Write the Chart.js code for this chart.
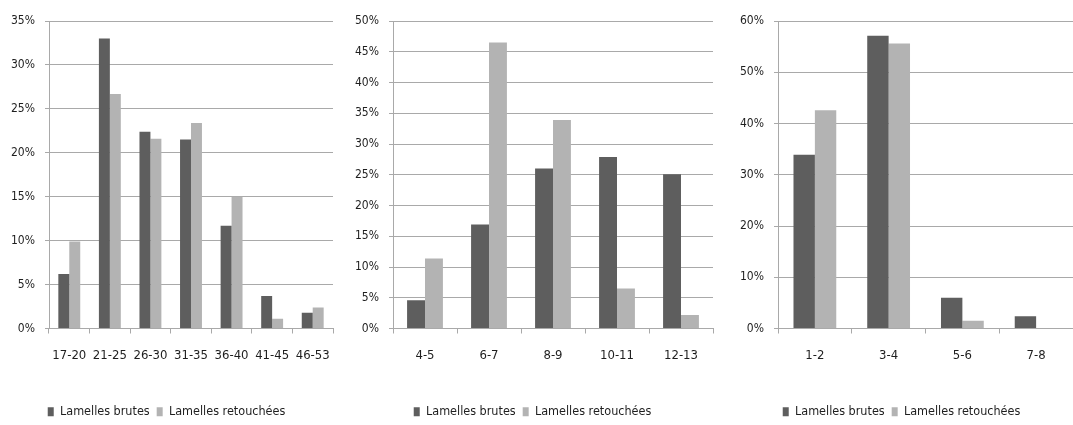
<!DOCTYPE html>
<html>
<head>
<meta charset="utf-8">
<script src="https://cdn.jsdelivr.net/npm/chart.js@4/dist/chart.umd.min.js"></script>
<style>
  html, body { margin: 0; padding: 0; background: #fff; width: 1073px; height: 425px; overflow: hidden; position: relative; }
  .box { position: absolute; top: 0; height: 425px; }
</style>
</head>
<body>
<div class="box" id="b1" style="left:0px;width:345px"><canvas id="c1"></canvas></div>
<div class="box" id="b2" style="left:352px;width:368px"><canvas id="c2"></canvas></div>
<div class="box" id="b3" style="left:730px;width:370px"><canvas id="c3"></canvas></div>
<script>
// Series names
const seriesNames = ['Lamelles brutes', 'Lamelles retouchées'];

// Panel 1 : length classes
const categories1 = ['17-20', '21-25', '26-30', '31-35', '36-40', '41-45', '46-53'];
const brutes1     = [6.2, 33.0, 22.4, 21.5, 11.7, 3.7, 1.8];
const retouchees1 = [9.9, 26.7, 21.6, 23.4, 15.0, 1.1, 2.4];
const yTicks1 = { max: 35, step: 5 };

// Panel 2 : width classes
const categories2 = ['4-5', '6-7', '8-9', '10-11', '12-13'];
const brutes2     = [4.6, 16.9, 26.0, 27.9, 25.1];
const retouchees2 = [11.4, 46.5, 33.9, 6.5, 2.2];
const yTicks2 = { max: 50, step: 5 };

// Panel 3 : thickness classes
const categories3 = ['1-2', '3-4', '5-6', '7-8'];
const brutes3     = [33.9, 57.1, 6.0, 2.4];
const retouchees3 = [42.6, 55.6, 1.5, 0];
const yTicks3 = { max: 60, step: 10 };

const FONT = '"Liberation Sans Narrow", "DejaVu Sans Condensed", "Arial Narrow", sans-serif';
const DARK = '#5e5e5e';
const LIGHT = '#b3b3b3';
const GRID = '#a9a9a9';
const TEXT = '#1e1e1e';

function makeChart(id, cats, b, r, yt, opts) {
  return new Chart(document.getElementById(id), {
    type: 'bar',
    data: {
      labels: cats,
      datasets: [
        { label: seriesNames[0], data: b, backgroundColor: DARK, borderWidth: 0 },
        { label: seriesNames[1], data: r, backgroundColor: LIGHT, borderWidth: 0 }
      ]
    },
    options: {
      responsive: true,
      maintainAspectRatio: false,
      animation: false,
      datasets: { bar: { categoryPercentage: opts.catPct, barPercentage: 1.0 } },
      layout: { padding: { top: 21, right: opts.padRight, left: 0, bottom: -3 } },
      plugins: {
        tooltip: { enabled: false },
        legend: {
          position: 'bottom',
          labels: {
            font: { family: FONT, size: 12.5 },
            color: TEXT,
            boxWidth: 6,
            boxHeight: 9,
            padding: 7
          }
        }
      },
      scales: {
        x: {
          grid: { display: true, drawOnChartArea: false, drawTicks: true, tickLength: 5, color: GRID, offset: true },
          border: { display: true, color: GRID, width: 1 },
          ticks: { font: { family: FONT, size: 13 }, color: TEXT, padding: 14, maxRotation: 0, autoSkip: false },
          afterFit: (s) => { s.height = opts.xHeight; }
        },
        y: {
          min: 0,
          max: yt.max,
          grid: { color: GRID, lineWidth: 1, drawTicks: true, tickLength: 4 },
          border: { display: true, color: GRID, width: 1 },
          ticks: {
            stepSize: yt.step,
            font: { family: FONT, size: 12 },
            color: TEXT,
            padding: 10,
            callback: (v) => v + '%'
          },
          afterFit: (s) => { s.width = opts.yWidth; }
        }
      }
    }
  });
}

makeChart('c1', categories1, brutes1, retouchees1, yTicks1, { catPct: 0.54, padRight: 12, yWidth: 49, xHeight: 70 });
makeChart('c2', categories2, brutes2, retouchees2, yTicks2, { catPct: 0.56, padRight: 7, yWidth: 41, xHeight: 70 });
makeChart('c3', categories3, brutes3, retouchees3, yTicks3, { catPct: 0.58, padRight: 27, yWidth: 48, xHeight: 70 });
</script>
</body>
</html>
